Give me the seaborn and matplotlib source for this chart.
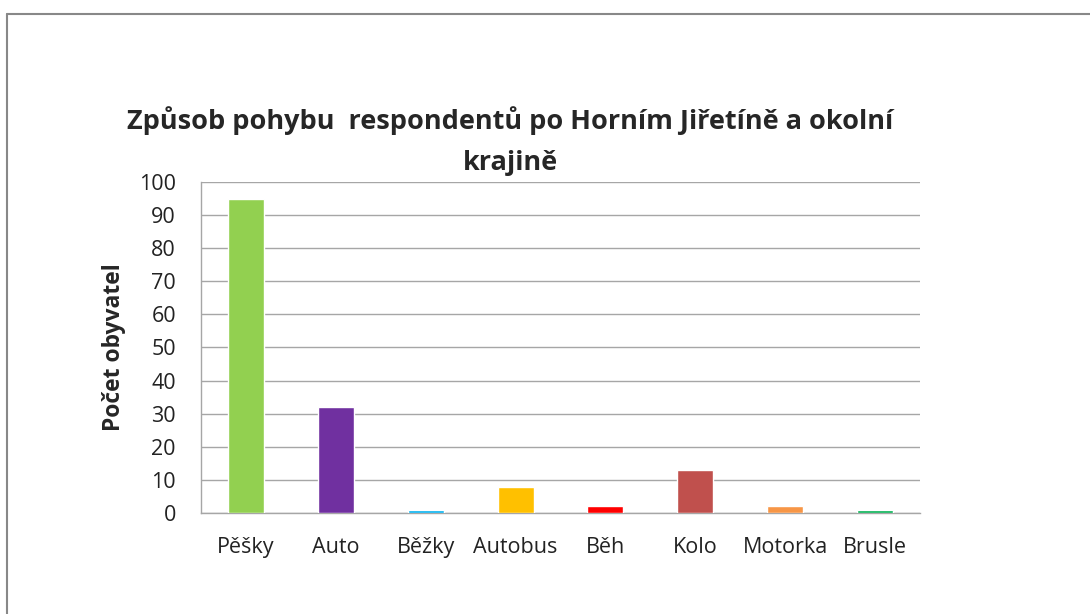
import matplotlib
matplotlib.use('Agg')
import matplotlib.pyplot as plt
import seaborn as sns
import pandas as pd

# Data
categories = ['Pěšky', 'Auto', 'Běžky', 'Autobus', 'Běh', 'Kolo', 'Motorka', 'Brusle']
counts = [95, 32, 1, 8, 2, 13, 2, 1]
colors = ['#92D050', '#7030A0', '#00B0F0', '#FFC000', '#FF0000', '#C0504D', '#F79646', '#00B050']
yticks = [0, 10, 20, 30, 40, 50, 60, 70, 80, 90, 100]
title_lines = ['Způsob pohybu  respondentů po Horním Jiřetíně a okolní', 'krajině']

df = pd.DataFrame({'mode': categories, 'count': counts})

sns.set_theme(style='white')
plt.rcParams['font.family'] = ['Open Sans', 'DejaVu Sans']

fig = plt.figure(figsize=(10.9, 6.14), dpi=100)
ax = fig.add_axes([0.1844, 0.1645, 0.6596, 0.5391])

sns.barplot(data=df, x='mode', y='count', hue='mode', palette=colors,
            width=0.4, legend=False, saturation=1, ax=ax, zorder=3)

ax.set_ylim(0, 100)
ax.set_yticks(yticks)
ax.set_xlim(-0.5, len(categories) - 0.5)
ax.yaxis.grid(True, color='#a6a6a6', linewidth=1, zorder=0)
ax.set_axisbelow(True)
for side in ['top', 'right']:
    ax.spines[side].set_visible(False)
for side in ['left', 'bottom']:
    ax.spines[side].set_color('#a6a6a6')
    ax.spines[side].set_linewidth(1)
ax.tick_params(axis='both', length=0, labelsize=15.5, colors='#222222')
ax.tick_params(axis='y', pad=18)
ax.tick_params(axis='x', pad=17)
ax.set_xlabel('')
ax.set_ylabel('Počet obyvatel', fontsize=16.5, fontweight='bold', labelpad=9)

# title as two centred lines
fig.text(0.468, 1 - 121 / 614, title_lines[0], ha='center', va='center',
         fontsize=19.5, fontweight='bold')
fig.text(0.468, 1 - 163 / 614, title_lines[1], ha='center', va='center',
         fontsize=19.5, fontweight='bold')

# chart area border (top and left edges visible, rest cut off)
fig.add_artist(plt.Line2D([7 / 1090, 1], [1 - 14 / 614, 1 - 14 / 614], color='#888888', linewidth=1.5))
fig.add_artist(plt.Line2D([7 / 1090, 7 / 1090], [0, 1 - 14 / 614], color='#888888', linewidth=1.5))

fig.savefig('out.png', dpi=100)
